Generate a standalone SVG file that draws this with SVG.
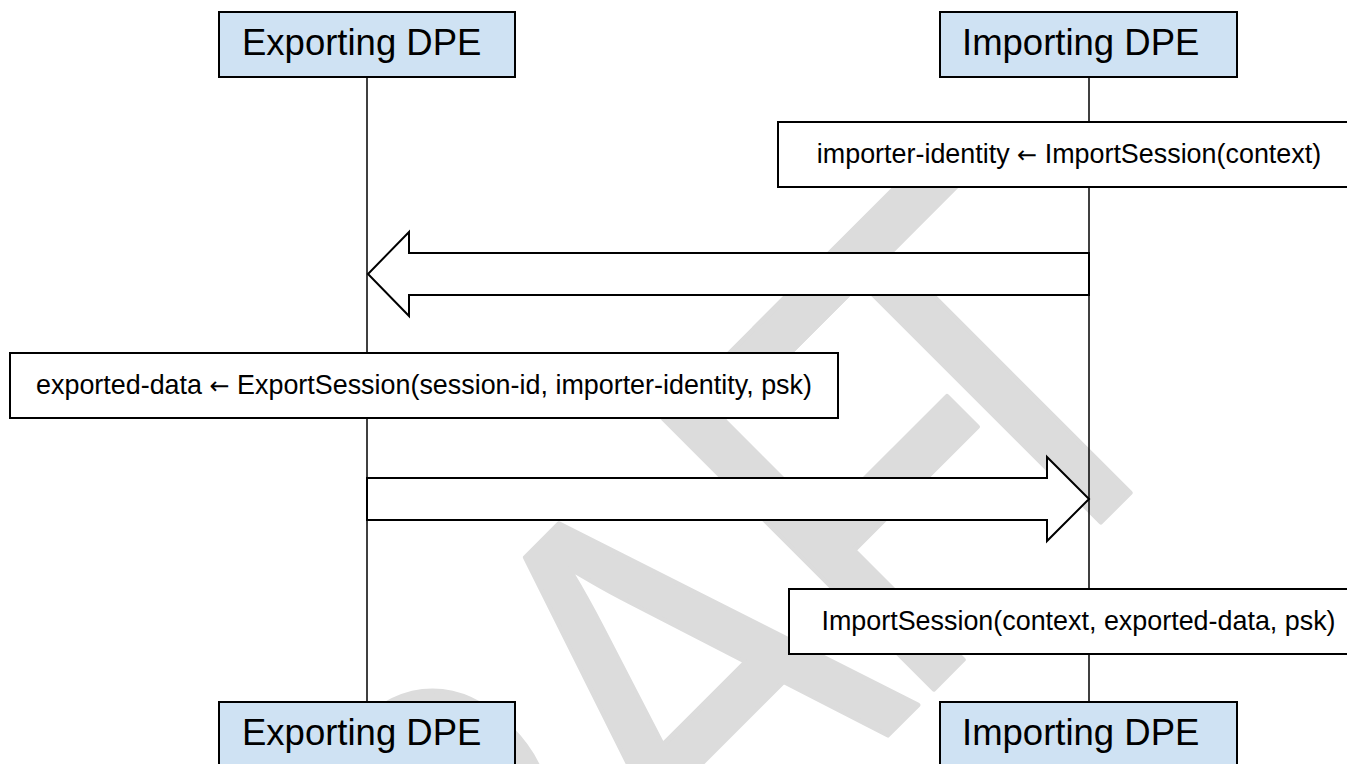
<svg xmlns="http://www.w3.org/2000/svg" width="1347" height="764" viewBox="0 0 1347 764">
<style>
.actor{fill:#cfe2f3;stroke:#000;stroke-width:2}
.actor-t{font-family:"Liberation Sans",Arial,sans-serif;font-size:36.5px;fill:#000}
.op{fill:#fff;stroke:#000;stroke-width:2}
.op-t{font-family:"Liberation Sans",Arial,sans-serif;font-size:26.9px;fill:#000;text-anchor:middle}
.arr{font-family:"DejaVu Sans",sans-serif;font-size:24px}
.life{stroke:#000;stroke-width:1.5;fill:none}
.big{fill:#fff;stroke:#000;stroke-width:2;stroke-linejoin:miter}
.wm{font-family:"Liberation Sans",Arial,sans-serif;font-size:555px;fill:#dcdcdc;stroke:#dcdcdc;stroke-width:5;stroke-linejoin:round}
</style>
<rect width="1347" height="764" fill="#fff"/>
<g id="watermark" transform="translate(530,530) rotate(-45)"><g transform="scale(0.82,1)"><text class="wm" y="398"><tspan x="-948">D</tspan><tspan x="-547">R</tspan><tspan x="-185">A</tspan><tspan x="165">F</tspan><tspan x="355">T</tspan></text></g></g>
<g id="connectors">
<line class="life" x1="367" y1="77" x2="367" y2="702"/>
<line class="life" x1="1089" y1="77" x2="1089" y2="702"/>
<polygon class="big" points="1089,253 409,253 409,232 368,274 409,316 409,295 1089,295"/>
<polygon class="big" points="367,478 1047,478 1047,457 1089,499 1047,541 1047,520 367,520"/>
</g>
<g id="exp-top"><rect class="actor" x="219" y="12" width="296" height="65"/><text class="actor-t" x="242" y="55">Exporting DPE</text></g>
<g id="imp-top"><rect class="actor" x="940" y="12" width="297" height="65"/><text class="actor-t" x="962" y="55">Importing DPE</text></g>
<g id="op-import-identity"><rect class="op" x="778" y="122" width="582" height="65"/><text class="op-t" x="1069" y="163">importer-identity <tspan class="arr">←</tspan> ImportSession(context)</text></g>
<g id="op-export"><rect class="op" x="10" y="353" width="828" height="65"/><text class="op-t" x="424" y="394">exported-data <tspan class="arr">←</tspan> ExportSession(session-id, importer-identity, psk)</text></g>
<g id="op-import"><rect class="op" x="789" y="589" width="579" height="65"/><text class="op-t" x="1078.5" y="630">ImportSession(context, exported-data, psk)</text></g>
<g id="exp-bottom"><rect class="actor" x="219" y="702" width="296" height="66"/><text class="actor-t" x="242" y="745">Exporting DPE</text></g>
<g id="imp-bottom"><rect class="actor" x="940" y="702" width="297" height="66"/><text class="actor-t" x="962" y="745">Importing DPE</text></g>
</svg>
